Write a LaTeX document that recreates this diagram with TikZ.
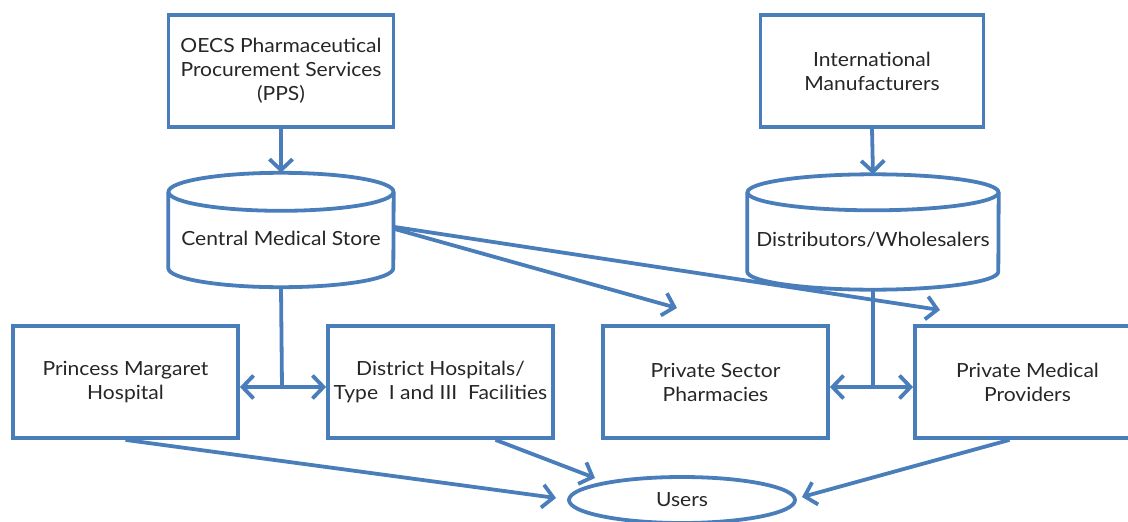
\documentclass[tikz,border=0pt]{standalone}
\usepackage{fontspec}
\setmainfont{Lato}[FakeStretch=1.08]
\usetikzlibrary{arrows.meta,calc,shapes.geometric}
\definecolor{edge}{RGB}{74,126,187}
\definecolor{ink}{RGB}{38,38,38}
\begin{document}
\begin{tikzpicture}[x=1pt,y=-1pt,
  txt/.style={font=\fontsize{19.5}{24}\selectfont, text=ink, align=center},
  box/.style={txt, draw=edge, line width=3.8pt, minimum width=225pt, minimum height=112pt, inner sep=0pt},
  cylarea/.style={inner sep=0pt, minimum width=#1},
  cylline/.style={draw=edge, line width=3.8pt},
  arr/.style={draw=edge, line width=3.8pt, -{Straight Barb[length=11pt,width=23pt]}},
  darr/.style={draw=edge, line width=3.8pt, {Straight Barb[length=11pt,width=23pt]}-{Straight Barb[length=11pt,width=23pt]}},
  stem/.style={draw=edge, line width=3.8pt}
]
\useasboundingbox (0,0) rectangle (1128,522);

% top boxes
\node[box] (pps) at (281,71) {OECS Pharmaceutical\\Procurement Services\\(PPS)};
\node[box, minimum width=223pt] (im) at (872,71) {International\\Manufacturers};

% cylinders
\node[cylarea=225pt, minimum height=114pt] (cms) at (281,230) {};
\draw[cylline] ($(cms.north)+(0,19)$) ellipse [x radius=112.5, y radius=19];
\draw[cylline] ($(cms.north west)+(0,19)$) -- ($(cms.south west)+(0,-19)$)
  arc[start angle=180, end angle=0, x radius=112.5, y radius=19]
  -- ($(cms.north east)+(0,19)$);
\node[txt] (cmst) at ($(cms.center)+(0,8)$) {Central Medical Store};

\node[cylarea=251pt, minimum height=115pt] (dw) at (873,232) {};
\draw[cylline] ($(dw.north)+(0,18)$) ellipse [x radius=125.5, y radius=18];
\draw[cylline] ($(dw.north west)+(0,18)$) -- ($(dw.south west)+(0,-18)$)
  arc[start angle=180, end angle=0, x radius=125.5, y radius=18]
  -- ($(dw.north east)+(0,18)$);
\node[txt] (dwt) at ($(dw.center)+(0,8)$) {Distributors/Wholesalers};

% bottom boxes
\node[box] (pmh) at (125.5,382) {Princess Margaret\\Hospital};
\node[box] (dh) at (440.5,382) {District Hospitals/\\Type\ \ I and III\ \ Facilities};
\node[box] (psp) at (715.5,382) {Private Sector\\Pharmacies};
\node[box] (pmp) at (1027.5,382) {Private Medical\\Providers};

% users
\node[txt, draw=edge, line width=3.8pt, ellipse, minimum width=226pt, minimum height=46pt, inner sep=0pt] (users) at (682,500) {Users};

% junctions and tips
\coordinate (j1) at (282,387);
\coordinate (j2) at (873,387);
\coordinate (tpsp) at (677,308);
\coordinate (tpmp) at (940,310);
\coordinate (tu1) at (556,498);
\coordinate (tu2) at (595,478);
\coordinate (tu3) at (802,497);

% connectors
\draw[arr] (pps.south) -- (cms.north);
\draw[arr] (im.south) -- (dw.north);

\draw[stem] (cms.south) -- (j1);
\draw[darr] (pmh.east |- j1) -- (dh.west |- j1);
\draw[stem] (dw.south) -- (j2);
\draw[darr] (psp.east |- j2) -- (pmp.west |- j2);

\draw[arr] ($(cms.east)+(1,-1)$) -- (tpsp);
\draw[arr] ($(cms.east)+(1,-3)$) -- (tpmp);

\draw[arr] (pmh.south) -- (tu1);
\draw[arr] ($(dh.south)+(55,0)$) -- (tu2);
\draw[arr] ($(pmp.south)+(-18,0)$) -- (tu3);
\end{tikzpicture}
\end{document}
